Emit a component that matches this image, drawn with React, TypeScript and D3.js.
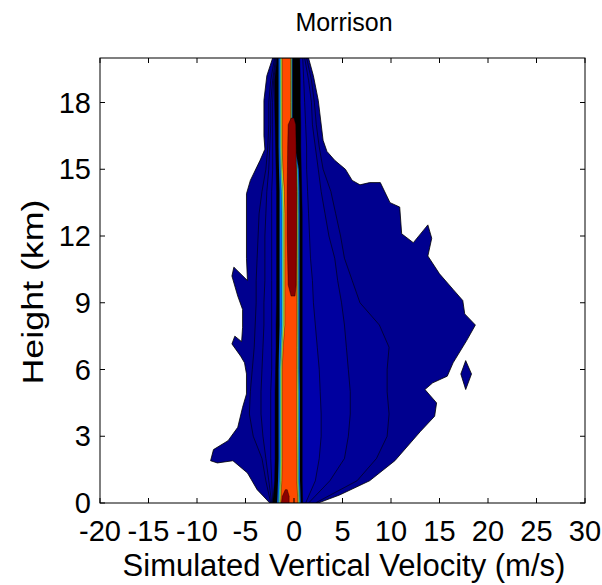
import React, { useEffect, useRef } from 'react';
import * as d3 from 'd3';

// axis ticks
const xTicks = [-20, -15, -10, -5, 0, 5, 10, 15, 20, 25, 30];
const yTicks = [0, 3, 6, 9, 12, 15, 18];

// outer envelope of the lowest frequency contour (velocity m/s, height km)
const outlineV = [
  -2.2, -2.8, -3.1, -3.1, -3.0, -3.5, -4.5, -4.9, -4.9, -4.8, -6.2, -6.4, -5.8, -5.3, -5.3, -5.4,
  -6.1, -6.4, -5.5, -5.1, -4.9, -4.9, -5.3, -5.8, -6.8, -8.3, -8.6, -7.9, -6.3, -4.8, -3.8, -2.5,
  2.5, 4.7, 7.8, 10.4, 13.0, 14.5, 14.7, 13.5, 14.3, 15.8, 16.4, 17.8, 18.7, 17.6, 17.4, 16.4,
  15.0, 13.8, 14.2, 13.8, 12.3, 11.1, 10.9, 9.9, 8.9, 7.8, 6.8, 6.0, 5.3, 4.2, 3.4, 3.0, 2.5, 2.0, 1.5,
];
const outlineH = [
  20, 19.2, 18.1, 16.5, 15.9, 15.4, 14.5, 13.9, 11.0, 10.0, 10.6, 10.2, 9.3, 8.7, 7.9, 7.25,
  7.5, 7.15, 6.6, 6.3, 5.8, 4.9, 4.3, 3.4, 2.8, 2.4, 1.9, 1.8, 1.9, 1.35, 0.6, 0,
  0, 0.36, 1.0, 1.9, 3.2, 3.9, 4.5, 5.1, 5.4, 5.7, 6.3, 7.3, 8.0, 8.5, 9.1, 9.6,
  10.3, 11.1, 11.9, 12.5, 11.7, 12.1, 13.3, 13.5, 14.4, 14.4, 14.3, 14.5, 15.0, 15.4, 15.8, 16.3, 18.1, 19.2, 20,
];
const islandV = [17.7, 18.3, 17.7, 17.2];
const islandH = [6.4, 5.8, 5.1, 5.8];

// inner contour levels, left / right edge per height
const heights = [0, 1, 2, 3, 4, 5, 6, 7, 8, 9, 10, 11, 12, 13, 14, 15, 16, 17, 18, 19, 20];
const lev2L = [-2.4, -2.9, -3.3, -4.2, -4.6, -4.5, -4.3, -4.1, -4.0, -3.9, -3.9, -3.8, -3.7, -3.6, -3.3, -2.9, -2.7, -2.6, -2.6, -2.4, -2.0];
const lev2R = [2.2, 6.5, 8.5, 9.6, 9.8, 9.6, 9.6, 9.8, 8.8, 6.8, 6.0, 5.2, 4.8, 4.3, 3.8, 3.0, 2.6, 2.3, 2.1, 1.8, 1.3];
const lev3L = [-2.3, -2.6, -2.9, -3.2, -3.4, -3.4, -3.3, -3.2, -3.1, -3.1, -3.0, -3.0, -3.0, -2.9, -2.8, -2.6, -2.5, -2.4, -2.4, -2.2, -1.9];
const lev3R = [1.5, 3.7, 5.2, 5.6, 5.8, 5.8, 5.6, 5.4, 5.2, 4.9, 4.5, 4.2, 3.6, 3.2, 2.8, 2.5, 2.2, 1.9, 1.8, 1.5, 1.1];
const lev4L = [-2.2, -2.3, -2.4, -2.4, -2.4, -2.4, -2.3, -2.3, -2.3, -2.3, -2.3, -2.3, -2.3, -2.3, -2.3, -2.2, -2.2, -2.2, -2.2, -2.1, -1.8];
const lev4R = [1.2, 2.2, 2.6, 2.8, 2.8, 2.7, 2.6, 2.4, 2.2, 2.0, 1.9, 1.7, 1.6, 1.5, 1.4, 1.3, 1.3, 1.2, 1.1, 1.0, 0.9];
const lev5L = [-2.2, -2.0, -1.95, -1.95, -1.95, -1.95, -1.9, -1.85, -1.85, -1.8, -1.8, -1.8, -1.8, -1.8, -1.8, -1.85, -1.9, -1.95, -2.0, -2.0, -1.75];
const lev5R = [0.9, 0.85, 0.85, 0.85, 0.85, 0.85, 0.85, 0.85, 0.85, 0.85, 0.85, 0.85, 0.85, 0.85, 0.8, 0.75, 0.7, 0.7, 0.65, 0.65, 0.6];
const lev6L = [-1.75, -1.65, -1.6, -1.6, -1.6, -1.6, -1.6, -1.55, -1.5, -1.5, -1.5, -1.5, -1.5, -1.5, -1.5, -1.55, -1.6, -1.6, -1.6, -1.6, -1.6];
const lev6R = [0.7, 0.62, 0.62, 0.62, 0.62, 0.62, 0.58, 0.58, 0.58, 0.58, 0.58, 0.58, 0.58, 0.58, 0.56, 0.5, 0.1, -0.15, -0.15, -0.15, -0.15];
const cyanL = [-1.6, -1.5, -1.45, -1.45, -1.45, -1.45, -1.45, -1.35, -1.25, -1.25, -1.25, -1.25, -1.25, -1.25, -1.3, -1.4, -1.45, -1.45, -1.45, -1.45, -1.45];
const cyanR = [0.6, 0.5, 0.5, 0.5, 0.5, 0.5, 0.47, 0.47, 0.47, 0.47, 0.47, 0.47, 0.47, 0.47, 0.45, 0.4, 0.05, -0.22, -0.22, -0.22, -0.22];
const yellowL = [-1.48, -1.38, -1.33, -1.33, -1.33, -1.33, -1.33, -1.23, -1.1, -1.1, -1.1, -1.1, -1.1, -1.1, -1.15, -1.28, -1.33, -1.33, -1.33, -1.33, -1.33];
const yellowR = [0.5, 0.4, 0.4, 0.4, 0.4, 0.4, 0.38, 0.38, 0.38, 0.38, 0.38, 0.38, 0.38, 0.38, 0.36, 0.3, 0.0, -0.28, -0.28, -0.28, -0.28];
const orangeL = [-1.38, -1.26, -1.22, -1.22, -1.22, -1.22, -1.22, -1.12, -0.95, -0.95, -0.95, -0.95, -0.95, -0.95, -1.0, -1.15, -1.22, -1.22, -1.22, -1.22, -1.22];
const orangeR = [0.4, 0.3, 0.3, 0.28, 0.28, 0.28, 0.28, 0.28, 0.3, 0.3, 0.3, 0.3, 0.3, 0.3, 0.3, 0.25, -0.05, -0.35, -0.35, -0.35, -0.35];
const redH = [9.3, 9.8, 12, 14, 16, 17.0, 17.3];
const redL = [-0.3, -0.6, -0.7, -0.7, -0.65, -0.6, -0.3];
const redR = [0.1, 0.22, 0.26, 0.26, 0.22, 0.18, 0.0];
const redBaseH = [0, 0.3, 0.6];
const redBaseL = [-1.3, -1.2, -0.9];
const redBaseR = [-0.5, -0.5, -0.7];

const W = 602;
const H = 585;
const plot = { left: 100, right: 585, top: 58, bottom: 503 };
const font = "'Liberation Sans', Arial, sans-serif";

const App = () => {
  const svgRef = useRef<SVGSVGElement | null>(null);

  useEffect(() => {
    const svg = d3.select(svgRef.current);
    svg.selectAll('*').remove();

    const x = d3.scaleLinear().domain([-20, 30]).range([plot.left, plot.right]);
    const y = d3.scaleLinear().domain([0, 20]).range([plot.bottom, plot.top]);

    svg.append('defs').append('clipPath').attr('id', 'plotclip')
      .append('rect')
      .attr('x', plot.left).attr('y', plot.top)
      .attr('width', plot.right - plot.left).attr('height', plot.bottom - plot.top);

    const g = svg.append('g').attr('clip-path', 'url(#plotclip)');

    const poly = (vs: number[], hs: number[]) =>
      d3.line<number>().x(i => x(vs[i])).y(i => y(hs[i])).curve(d3.curveLinearClosed)(d3.range(vs.length));

    const band = (hs: number[], ls: number[], rs: number[]) =>
      d3.area<number>().y(i => y(hs[i])).x0(i => x(ls[i])).x1(i => x(rs[i]))(d3.range(hs.length));

    const levels = [
      { d: band(heights, lev2L, lev2R), fill: '#000097', sw: 0.6 },
      { d: band(heights, lev3L, lev3R), fill: '#00009f', sw: 0.6 },
      { d: band(heights, lev4L, lev4R), fill: '#0000ab', sw: 0.6 },
      { d: band(heights, lev5L, lev5R), fill: '#000000', sw: 0.4 },
      { d: band(heights, lev6L, lev6R), fill: '#0064ff', sw: 0.3 },
      { d: band(heights, cyanL, cyanR), fill: '#40e8d0', sw: 0.3 },
      { d: band(heights, yellowL, yellowR), fill: '#f0f020', sw: 0.3 },
      { d: band(heights, orangeL, orangeR), fill: '#ff4a00', sw: 0.4 },
      { d: band(redH, redL, redR), fill: '#8b0000', sw: 0.4 },
      { d: band(redBaseH, redBaseL, redBaseR), fill: '#8b0000', sw: 0.4 },
    ];

    g.append('path').attr('d', poly(outlineV, outlineH))
      .attr('fill', '#00008f').attr('stroke', '#000').attr('stroke-width', 0.8);
    g.append('path').attr('d', poly(islandV, islandH))
      .attr('fill', '#00008f').attr('stroke', '#000').attr('stroke-width', 0.8);

    g.selectAll('.level')
      .data(levels)
      .enter()
      .append('path')
      .attr('class', 'level')
      .attr('d', d => d.d)
      .attr('fill', d => d.fill)
      .attr('stroke', '#000')
      .attr('stroke-width', d => d.sw);

    // frame and ticks (matlab style, inward on all sides)
    const axis = svg.append('g').attr('stroke', '#000').attr('stroke-width', 1);
    axis.append('rect')
      .attr('x', plot.left).attr('y', plot.top)
      .attr('width', plot.right - plot.left).attr('height', plot.bottom - plot.top)
      .attr('fill', 'none');
    xTicks.forEach(t => {
      axis.append('line').attr('x1', x(t)).attr('x2', x(t)).attr('y1', plot.bottom).attr('y2', plot.bottom - 5);
      axis.append('line').attr('x1', x(t)).attr('x2', x(t)).attr('y1', plot.top).attr('y2', plot.top + 5);
    });
    yTicks.forEach(t => {
      axis.append('line').attr('x1', plot.left).attr('x2', plot.left + 5).attr('y1', y(t)).attr('y2', y(t));
      axis.append('line').attr('x1', plot.right).attr('x2', plot.right - 5).attr('y1', y(t)).attr('y2', y(t));
    });

    svg.selectAll('.xlab')
      .data(xTicks)
      .enter()
      .append('text')
      .attr('class', 'xlab')
      .attr('x', d => x(d))
      .attr('y', 541)
      .attr('text-anchor', 'middle')
      .style('font-family', font)
      .style('font-size', '29px')
      .text(d => d);

    svg.selectAll('.ylab')
      .data(yTicks)
      .enter()
      .append('text')
      .attr('class', 'ylab')
      .attr('x', 91)
      .attr('y', d => y(d) + 10)
      .attr('text-anchor', 'end')
      .style('font-family', font)
      .style('font-size', '29px')
      .text(d => d);

    svg.append('text')
      .attr('x', 344)
      .attr('y', 31)
      .attr('text-anchor', 'middle')
      .style('font-family', font)
      .style('font-size', '25px')
      .text('Morrison');

    svg.append('text')
      .attr('x', 344)
      .attr('y', 576)
      .attr('text-anchor', 'middle')
      .style('font-family', font)
      .style('font-size', '31px')
      .text('Simulated Vertical Velocity (m/s)');

    svg.append('text')
      .attr('transform', `translate(43, 292) rotate(-90)`)
      .attr('text-anchor', 'middle')
      .attr('textLength', 185)
      .attr('lengthAdjust', 'spacingAndGlyphs')
      .style('font-family', font)
      .style('font-size', '30px')
      .text('Height (km)');
  }, []);

  return (
    <div>
      <style>{'body { margin: 0; background: #fff; }'}</style>
      <svg ref={svgRef} width={W} height={H} style={{ display: 'block', background: '#fff' }} />
    </div>
  );
};

export default App;
